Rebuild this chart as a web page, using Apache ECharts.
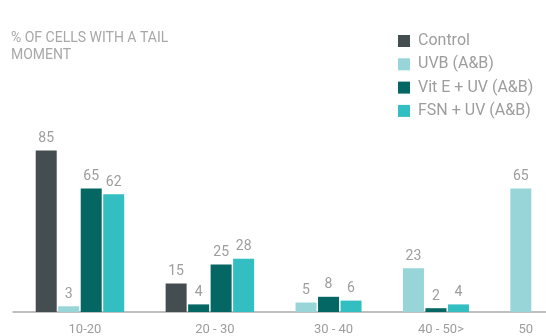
<!DOCTYPE html>
<html>
<head>
<meta charset="utf-8">
<script src="https://cdn.jsdelivr.net/npm/echarts@6/dist/echarts.min.js"></script>
<style>
  html, body { margin: 0; padding: 0; background: #fff; }
  #chart { width: 546px; height: 336px; }
</style>
</head>
<body>
<div id="chart"></div>
<script>
  // data
  var categories = ['10-20', '20 - 30', '30 - 40', '40 - 50>', '50']
  var seriesNames = ['Control', 'UVB (A&B)', 'Vit E + UV (A&B)', 'FSN + UV (A&B)']
  var control = [85, 15, null, null, null]
  var uvb = [3, 4, 5, 23, 65]
  var vitE = [65, 25, 8, 2, null]
  var fsn = [62, 28, 6, 4, null]

  var colors = ['#444d4f', '#97d5d9', '#056763', '#33bec1']
  // in the original the UVB bar of the 2nd group is drawn in the Vit E colour
  var recolored = { series: 1, group: 1, color: '#056763' }

  // bars are packed inside a group, missing ones leave no hole
  var groupStep = 2.773
  var allSeries = [control, uvb, vitE, fsn]
  var slots = allSeries.map(function () { return [] })
  var centers = []
  var start = 0
  categories.forEach(function (c, g) {
    var k = 0
    allSeries.forEach(function (arr, s) {
      if (arr[g] != null) {
        slots[s].push({ value: [start + k, arr[g]], group: g })
        k++
      }
    })
    centers.push(start + (k - 1) / 2)
    start = start + (k - 1) + groupStep
  })

  var grey = '#9d9d9d'
  var chart = echarts.init(document.getElementById('chart'))
  chart.setOption({
    backgroundColor: '#fff',
    animation: false,
    textStyle: { fontFamily: 'Roboto' },
    title: {
      text: '% OF CELLS WITH A TAIL\nMOMENT',
      left: 11,
      top: 30,
      padding: 0,
      textStyle: {
        fontSize: 14,
        fontWeight: 'normal',
        color: '#a8a8a8',
        lineHeight: 16.7
      }
    },
    legend: {
      orient: 'vertical',
      left: 393,
      top: 27,
      icon: 'rect',
      itemWidth: 12,
      itemHeight: 12,
      itemGap: 5.3,
      data: seriesNames,
      textStyle: {
        fontSize: 16,
        color: grey,
        lineHeight: 18,
        padding: [0, 0, 0, 3]
      }
    },
    grid: {
      left: 13,
      right: 0,
      top: 122,
      bottom: 22
    },
    xAxis: {
      type: 'value',
      min: -1.476,
      max: 22.21,
      axisLine: { show: true, lineStyle: { color: '#aaaaaa', width: 1.5 } },
      axisTick: { show: false },
      splitLine: { show: false },
      axisLabel: {
        customValues: centers,
        margin: 11,
        fontSize: 13,
        color: grey,
        padding: [0, 0, 0, 10],
        formatter: function (v) {
          var best = 0
          centers.forEach(function (c, i) {
            if (Math.abs(c - v) < Math.abs(centers[best] - v)) best = i
          })
          return categories[best]
        }
      }
    },
    yAxis: {
      type: 'value',
      min: 0,
      max: 100,
      show: false
    },
    series: seriesNames.map(function (name, s) {
      return {
        name: name,
        type: 'bar',
        barWidth: 21,
        barGap: '-100%',
        itemStyle: { color: colors[s] },
        label: {
          show: true,
          position: 'top',
          distance: 5,
          fontSize: 14,
          color: grey,
          formatter: function (p) { return p.value[1] }
        },
        data: slots[s].map(function (d) {
          var item = { value: d.value }
          if (s === recolored.series && d.group === recolored.group) {
            item.itemStyle = { color: recolored.color }
          }
          return item
        })
      }
    })
  })
</script>
</body>
</html>
